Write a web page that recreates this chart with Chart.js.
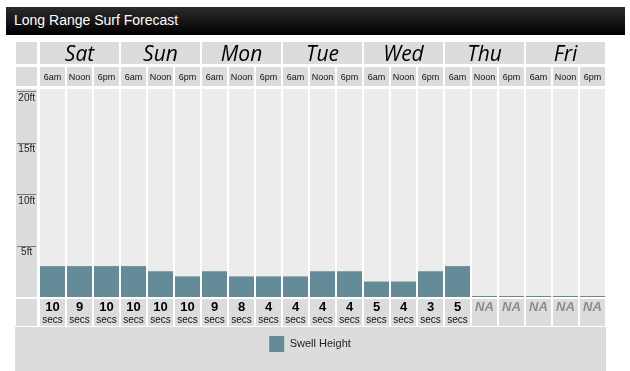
<!DOCTYPE html>
<html>
<head>
<meta charset="utf-8">
<script src="https://cdn.jsdelivr.net/npm/chart.js@4.4.1/dist/chart.umd.min.js"></script>
<style>
  html, body { margin: 0; padding: 0; background: #fff; }
  #wrap { position: relative; width: 630px; height: 371px; overflow: hidden; }
  #surf { position: absolute; left: 0; top: 0; }
  #head {
    position: absolute; left: 6px; top: 7px; width: 619px; height: 28px;
    box-sizing: border-box; padding-left: 8px;
    background: linear-gradient(#2c2c2c, #000);
    color: #fff; font: 14px "Liberation Sans", Arial, sans-serif; line-height: 27px;
  }
</style>
</head>
<body>
<div id="wrap">
  <canvas id="surf" width="630" height="371"></canvas>
  <div id="head">Long Range Surf Forecast</div>
</div>
<script>
const days = ['Sat', 'Sun', 'Mon', 'Tue', 'Wed', 'Thu', 'Fri'];
const times = ['6am', 'Noon', '6pm', '6am', 'Noon', '6pm', '6am', 'Noon', '6pm', '6am', 'Noon', '6pm',
  '6am', 'Noon', '6pm', '6am', 'Noon', '6pm', '6am', 'Noon', '6pm'];
// swell height in ft (NA slots show only a hairline)
const swellHeight = [3, 3, 3, 3, 2.5, 2, 2.5, 2, 2, 2, 2.5, 2.5, 1.5, 1.5, 2.5, 3, 0.1, 0.1, 0.1, 0.1, 0.1];
// swell period in seconds, null = NA
const periods = [10, 9, 10, 10, 10, 10, 9, 8, 4, 4, 4, 4, 5, 4, 3, 5, null, null, null, null, null];
const yTicks = [5, 10, 15, 20];

const teal = '#638c98';
const cellGray = '#dcdcdc';
const colGray = '#ececec';

Chart.defaults.font.family = '"Liberation Sans", Arial, sans-serif';
Chart.defaults.color = '#000';

// draws the grey table cells behind the bars and labels
const tablePlugin = {
  id: 'table',
  beforeDraw(chart) {
    const { ctx, chartArea, scales } = chart;
    const x = scales.x, d = scales.days, p = scales.period, s = scales.secs, y = scales.y;
    const hw = 12.5;
    ctx.save();
    ctx.fillStyle = cellGray;
    // legend block
    ctx.fillRect(y.left + 1, s.bottom + 1, x.right - 1 - y.left, chart.height - s.bottom - 1);
    // left column
    ctx.fillRect(y.left + 2, d.top, y.width - 4, d.bottom - 3 - d.top);
    ctx.fillRect(y.left + 2, x.top, y.width - 4, x.bottom - 3 - x.top);
    ctx.fillRect(y.left + 2, chartArea.top, y.width - 4, chartArea.bottom - chartArea.top);
    ctx.fillRect(y.left + 2, p.top + 2, y.width - 4, s.bottom - p.top - 2);
    // day cells
    days.forEach((day, i) => {
      const l = x.getPixelForValue(i * 3) - hw;
      const r = x.getPixelForValue(i * 3 + 2) + hw;
      ctx.fillRect(l, d.top, r - l, d.bottom - 3 - d.top);
    });
    times.forEach((t, i) => {
      const l = x.getPixelForValue(i) - hw;
      ctx.fillStyle = cellGray;
      ctx.fillRect(l, x.top, hw * 2, x.bottom - 3 - x.top);
      ctx.fillRect(l, p.top + 2, hw * 2, s.bottom - p.top - 2);
      ctx.fillStyle = colGray;
      ctx.fillRect(l, chartArea.top, hw * 2, chartArea.bottom - chartArea.top);
    });
    // ruler marks on the y column
    ctx.strokeStyle = '#777';
    ctx.lineWidth = 1;
    yTicks.forEach(v => {
      const py = Math.round(y.getPixelForValue(v)) + 0.5;
      ctx.beginPath();
      ctx.moveTo(y.left + 3, py);
      ctx.lineTo(y.right - 3, py);
      ctx.stroke();
    });
    ctx.restore();
  }
};

const noGrid = { display: false, drawTicks: false };

new Chart(document.getElementById('surf'), {
  type: 'bar',
  data: {
    labels: times,
    datasets: [{
      label: 'Swell Height',
      data: swellHeight,
      backgroundColor: teal,
      borderWidth: 0,
      barPercentage: 25 / 27,
      categoryPercentage: 1
    }]
  },
  options: {
    responsive: false,
    animation: false,
    devicePixelRatio: 1,
    layout: { padding: { top: 42, left: 14, right: 24, bottom: 9 } },
    scales: {
      x: {
        position: 'top',
        offset: true,
        grid: noGrid,
        border: { display: false },
        ticks: { autoSkip: false, maxRotation: 0, padding: 7, font: { size: 9, lineHeight: 1 }, color: '#111' },
        afterFit: s => { s.height = 22; }
      },
      days: {
        type: 'category',
        position: 'top',
        weight: 1,
        labels: days,
        offset: true,
        grid: noGrid,
        border: { display: false },
        ticks: { autoSkip: false, maxRotation: 0, padding: 1, color: '#000',
          font: { family: '"Open Sans", sans-serif', style: 'italic', size: 21, lineHeight: 1 } },
        afterFit: s => { s.height = 25; }
      },
      period: {
        type: 'category',
        position: 'bottom',
        labels: periods.map(v => v == null ? 'NA' : String(v)),
        offset: true,
        grid: noGrid,
        border: { display: false },
        ticks: {
          autoSkip: false, maxRotation: 0, padding: 3.5,
          color: c => periods[c.index] == null ? '#8c8c8c' : '#000',
          font: c => ({ size: 13, weight: 'bold', lineHeight: 1, style: periods[c.index] == null ? 'italic' : 'normal' })
        },
        afterFit: s => { s.height = 16; }
      },
      secs: {
        type: 'category',
        position: 'bottom',
        weight: 1,
        labels: periods.map(v => v == null ? '' : 'secs'),
        offset: true,
        grid: noGrid,
        border: { display: false },
        ticks: { autoSkip: false, maxRotation: 0, padding: 2, font: { size: 10, lineHeight: 1 }, color: '#111' },
        afterFit: s => { s.height = 13; }
      },
      y: {
        min: 0,
        max: 20.2,
        grid: noGrid,
        border: { display: false },
        afterBuildTicks: s => { s.ticks = yTicks.map(v => ({ value: v })); },
        ticks: {
          padding: 4,
          crossAlign: 'center',
          labelOffset: 7,
          font: { size: 10 },
          color: '#222',
          callback: v => v + 'ft'
        },
        afterFit: s => { s.width = 25; }
      }
    },
    plugins: {
      legend: {
        position: 'bottom',
        labels: { boxWidth: 15, boxHeight: 16, padding: 10, font: { size: 11 }, color: '#222' }
      },
      tooltip: { enabled: false }
    }
  },
  plugins: [tablePlugin]
});
</script>
</body>
</html>
